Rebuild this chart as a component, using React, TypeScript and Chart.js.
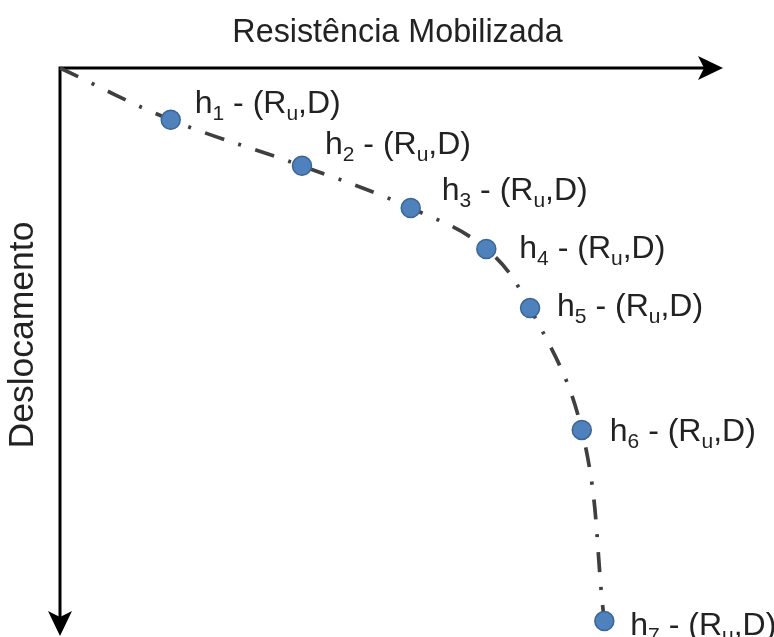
import React, { useEffect, useRef } from 'react';
import { Chart, registerables } from 'chart.js';

Chart.register(...registerables);

// ---- data ----
const pointIndices = ['1', '2', '3', '4', '5', '6', '7'];
const resistance = [16.7, 36.5, 52.9, 64.3, 70.9, 78.7, 82.1];
const displacement = [9.1, 17.2, 24.6, 31.8, 42.2, 63.6, 97.2];
const originPoint = { x: 0, y: 0 };
const xAxisTitle = 'Resistência Mobilizada';
const yAxisTitle = 'Deslocamento';
const labelHead = 'h';
const labelMid = ' - (R';
const labelSub = 'u';
const labelTail = ',D)';

// ---- styling ----
const FONT = "'Liberation Sans', Arial, Helvetica, sans-serif";
const labelOffsets: [number, number][] = [
  [24, -7],
  [23, -12],
  [31, -8],
  [33, 9],
  [27, 8],
  [28, 11],
  [26, 14],
];

const arrowAxesPlugin = {
  id: 'arrowAxes',
  beforeDatasetsDraw(chart: any) {
    const { ctx, scales } = chart;
    const x0 = scales.x.getPixelForValue(0);
    const y0 = scales.y.getPixelForValue(0);
    const xEnd = scales.x.getPixelForValue(100);
    const yEnd = scales.y.getPixelForValue(100) - 1;
    ctx.save();
    ctx.strokeStyle = '#000';
    ctx.fillStyle = '#000';
    ctx.lineWidth = 3;
    ctx.lineJoin = 'miter';
    ctx.beginPath();
    ctx.moveTo(xEnd - 14, y0);
    ctx.lineTo(x0, y0);
    ctx.lineTo(x0, yEnd - 14);
    ctx.stroke();
    // x arrow head
    ctx.beginPath();
    ctx.moveTo(xEnd, y0);
    ctx.lineTo(xEnd - 25, y0 - 12);
    ctx.lineTo(xEnd - 19, y0);
    ctx.lineTo(xEnd - 25, y0 + 12);
    ctx.closePath();
    ctx.fill();
    // y arrow head
    ctx.beginPath();
    ctx.moveTo(x0, yEnd);
    ctx.lineTo(x0 - 12, yEnd - 25);
    ctx.lineTo(x0, yEnd - 19);
    ctx.lineTo(x0 + 12, yEnd - 25);
    ctx.closePath();
    ctx.fill();

    // axis titles
    ctx.fillStyle = '#222';
    ctx.textBaseline = 'alphabetic';
    ctx.textAlign = 'center';
    ctx.font = `32.3px ${FONT}`;
    ctx.fillText(xAxisTitle, (x0 + xEnd) / 2 + 6, y0 - 26);
    ctx.save();
    ctx.translate(x0 - 27, (y0 + yEnd) / 2 - 17);
    ctx.rotate(-Math.PI / 2);
    ctx.font = `35.5px ${FONT}`;
    ctx.fillText(yAxisTitle, 0, 0);
    ctx.restore();
    ctx.restore();
  },
};

const pointLabelsPlugin = {
  id: 'pointLabels',
  afterDatasetsDraw(chart: any) {
    const { ctx } = chart;
    const meta = chart.getDatasetMeta(0);
    const main = `32px ${FONT}`;
    const sub = `21px ${FONT}`;
    ctx.save();
    ctx.fillStyle = '#222';
    ctx.textAlign = 'left';
    ctx.textBaseline = 'alphabetic';
    pointIndices.forEach((idx, i) => {
      const el = meta.data[i + 1];
      if (!el) return;
      const [dx, dy] = labelOffsets[i];
      let x = el.x + dx;
      const b = el.y + dy;
      ctx.font = main;
      ctx.fillText(labelHead, x, b);
      x += ctx.measureText(labelHead).width;
      ctx.font = sub;
      ctx.fillText(idx, x, b + 7);
      x += ctx.measureText(idx).width;
      ctx.font = main;
      ctx.fillText(labelMid, x, b);
      x += ctx.measureText(labelMid).width;
      ctx.font = sub;
      ctx.fillText(labelSub, x, b + 7);
      x += ctx.measureText(labelSub).width;
      ctx.font = main;
      ctx.fillText(labelTail, x, b);
    });
    ctx.restore();
  },
};

export default function App() {
  const canvasRef = useRef<HTMLCanvasElement | null>(null);

  useEffect(() => {
    const canvas = canvasRef.current;
    if (!canvas) return;
    const data = [originPoint, ...resistance.map((r, i) => ({ x: r, y: displacement[i] }))];
    const chart = new Chart(canvas, {
      type: 'scatter',
      data: {
        datasets: [
          {
            data,
            showLine: true,
            tension: 0.4,
            borderColor: '#3f3f3f',
            borderWidth: 3.7,
            borderDash: [20, 15, 3, 15],
            borderCapStyle: 'butt',
            pointRadius: data.map((_, i) => (i === 0 ? 0 : 9.5)),
            pointHoverRadius: data.map((_, i) => (i === 0 ? 0 : 9.5)),
            pointBackgroundColor: '#4f81bd',
            pointBorderColor: '#3a6696',
            pointBorderWidth: 1.5,
            clip: false as any,
          } as any,
        ],
      },
      options: {
        animation: false,
        responsive: true,
        maintainAspectRatio: false,
        events: [],
        layout: { padding: { left: 60, top: 68, right: 51, bottom: 0 } },
        plugins: {
          legend: { display: false },
          tooltip: { enabled: false },
          title: { display: false },
        },
        scales: {
          x: { type: 'linear', min: 0, max: 100, display: false },
          y: { type: 'linear', min: 0, max: 100, reverse: true, display: false },
        },
      },
      plugins: [
        {
          id: 'fitArea',
          afterLayout(chart: any) {
            // stretch plot area down to the bottom edge of the canvas
            const area = chart.chartArea;
            const target = chart.height;
            if (Math.abs(area.bottom - target) > 0.5) {
              const ys = chart.scales.y;
              area.bottom = target;
              area.height = target - area.top;
              ys.bottom = target;
              ys.height = target - ys.top;
              ys.configure();
            }
          },
        },
        arrowAxesPlugin,
        pointLabelsPlugin,
      ],
    });
    return () => chart.destroy();
  }, []);

  return (
    <div style={{ position: 'fixed', left: 0, top: 0, width: 774, height: 637, background: '#fff' }}>
      <canvas ref={canvasRef} style={{ display: 'block' }} />
    </div>
  );
}
